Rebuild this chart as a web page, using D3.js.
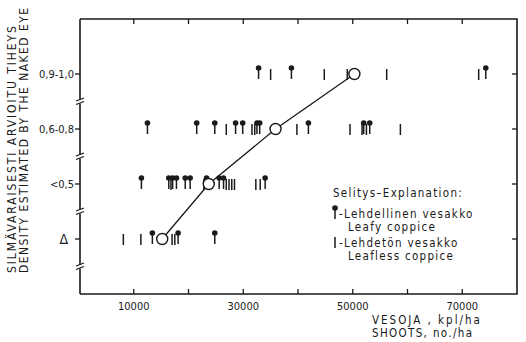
<!DOCTYPE html>
<html>
<head>
<meta charset="utf-8">
<script src="https://cdnjs.cloudflare.com/ajax/libs/d3/7.8.5/d3.min.js"></script>
<style>
	body { margin: 0; background: #fff; }
	svg text { font-family: "DejaVu Sans Condensed", "DejaVu Sans", sans-serif; fill: #1a1a1a; }
</style>
</head>
<body>
<div id="chart"></div>
<script>

	// density classes, bottom to top
	var rows = ["Δ", "<0,5", "0,6-0,8", "0,9-1,0"];

	// x ticks and labels
	var xTicks = [10000, 20000, 30000, 40000, 50000, 60000, 70000];
	var xLabels = [10000, 30000, 50000, 70000];

	// leafy coppice (pin markers), shoots per ha
	var leafyD = [13400, 18100, 24800];
	var leafy05 = [11400, 16400, 17100, 17800, 19400, 20300, 23300, 25600, 26400, 34000];
	var leafy068 = [12500, 21500, 24800, 28600, 29900, 32500, 33000, 41900, 52000, 53100];
	var leafy09 = [32800, 38800, 74300];

	// leafless coppice (bar markers)
	var leaflessD = [8100, 11300, 17000, 17500];
	var leafless05 = [16800, 22800, 26900, 27400, 27900, 28400, 32300, 33100];
	var leafless068 = [26900, 31600, 32100, 39800, 49500, 51700, 52500, 58700];
	var leafless09 = [35000, 44800, 49000, 56200, 73000];

	// class means
	var means = [15200, 23700, 35900, 50300];

	var width = 526;
	var height = 342;
	var marginLeft = 80, plotRight = 517, plotTop = 19, plotBottom = 294;
	var ink = "#1a1a1a";

	var svg = d3.select("#chart")
		.append("svg")
		.attr("width", width)
		.attr("height", height);

	var xScale = d3.scaleLinear()
		.domain([0, 80000])
		.range([marginLeft - 1, plotRight]);

	var yScale = d3.scalePoint()
		.domain(rows)
		.range([plotBottom, plotTop])
		.padding(1);

	// frame: top, right, bottom
	svg.append("path")
		.attr("d", "M" + marginLeft + "," + plotTop + "H" + plotRight + "V" + plotBottom + "H" + marginLeft)
		.attr("fill", "none")
		.attr("stroke", ink)
		.attr("stroke-width", 1.6);

	// left axis with breaks between classes
	var step = yScale.step();
	var breaks = rows.map(function(r){ return yScale(r) + step / 2; }).reverse();
	var gLeft = svg.append("g");
	var prev = plotTop;
	breaks.forEach(function(b){
		gLeft.append("line")
			.attr("x1", marginLeft).attr("x2", marginLeft)
			.attr("y1", prev).attr("y2", b - 2)
			.attr("stroke", ink).attr("stroke-width", 1.6);
		gLeft.append("line")
			.attr("x1", marginLeft - 4).attr("x2", marginLeft + 4)
			.attr("y1", b - 0.5).attr("y2", b - 3.5)
			.attr("stroke", ink).attr("stroke-width", 1.3);
		gLeft.append("line")
			.attr("x1", marginLeft - 4).attr("x2", marginLeft + 4)
			.attr("y1", b + 3).attr("y2", b)
			.attr("stroke", ink).attr("stroke-width", 1.3);
		prev = b + 2;
	});
	gLeft.append("line")
		.attr("x1", marginLeft).attr("x2", marginLeft)
		.attr("y1", prev).attr("y2", plotBottom)
		.attr("stroke", ink).attr("stroke-width", 1.6);

	// y ticks left (outside) and right (inside)
	rows.forEach(function(r){
		svg.append("line")
			.attr("x1", marginLeft - 5).attr("x2", marginLeft)
			.attr("y1", yScale(r)).attr("y2", yScale(r))
			.attr("stroke", ink).attr("stroke-width", 1.3);
		svg.append("line")
			.attr("x1", plotRight - 5).attr("x2", plotRight)
			.attr("y1", yScale(r)).attr("y2", yScale(r))
			.attr("stroke", ink).attr("stroke-width", 1.3);
		svg.append("text")
			.attr("x", r == "Δ" ? marginLeft - 12 : marginLeft - 6)
			.attr("y", yScale(r))
			.attr("dy", "0.35em")
			.attr("text-anchor", "end")
			.attr("font-size", r == "Δ" ? 14 : 11)
			.text(r);
	});

	// x ticks bottom and top (inside)
	xTicks.forEach(function(t){
		svg.append("line")
			.attr("x1", xScale(t)).attr("x2", xScale(t))
			.attr("y1", plotBottom).attr("y2", plotBottom - 5)
			.attr("stroke", ink).attr("stroke-width", 1.3);
		svg.append("line")
			.attr("x1", xScale(t)).attr("x2", xScale(t))
			.attr("y1", plotTop).attr("y2", plotTop + 5)
			.attr("stroke", ink).attr("stroke-width", 1.3);
	});
	svg.selectAll(".xlab")
		.data(xLabels)
		.enter()
		.append("text")
		.attr("x", function(d){ return xScale(d); })
		.attr("y", 310)
		.attr("text-anchor", "middle")
		.attr("font-size", 11)
		.text(function(d){ return d; });

	// axis titles
	svg.append("text").attr("x", 372).attr("y", 324).attr("font-size", 11.5)
		.attr("letter-spacing", 2).text("VESOJA , kpl/ha");
	svg.append("text").attr("x", 372).attr("y", 337).attr("font-size", 11.5)
		.attr("letter-spacing", 1.35).text("SHOOTS, no./ha");
	svg.append("text")
		.attr("transform", "translate(16,273) rotate(-90)")
		.attr("font-size", 12).attr("letter-spacing", 1.9)
		.text("SILMÄVARAISESTI  ARVIOITU  TIHEYS");
	svg.append("text")
		.attr("transform", "translate(28,273) rotate(-90)")
		.attr("font-size", 12).attr("letter-spacing", 1.45)
		.text("DENSITY ESTIMATED BY THE NAKED EYE");

	// markers
	function leafy(g, x, y){
		g.append("line")
			.attr("x1", x).attr("x2", x)
			.attr("y1", y - 6).attr("y2", y + 5)
			.attr("stroke", ink).attr("stroke-width", 1.5);
		g.append("circle")
			.attr("cx", x).attr("cy", y - 6).attr("r", 2.8)
			.attr("fill", ink);
	}
	function leafless(g, x, y){
		g.append("line")
			.attr("x1", x).attr("x2", x)
			.attr("y1", y - 5).attr("y2", y + 6)
			.attr("stroke", ink).attr("stroke-width", 1.5);
	}

	var leafyRows = [leafyD, leafy05, leafy068, leafy09];
	var leaflessRows = [leaflessD, leafless05, leafless068, leafless09];
	var gPts = svg.append("g");
	rows.forEach(function(r, i){
		leaflessRows[i].forEach(function(v){ leafless(gPts, xScale(v), yScale(r)); });
		leafyRows[i].forEach(function(v){ leafy(gPts, xScale(v), yScale(r)); });
	});

	// mean line and circles
	var line = d3.line()
		.x(function(d){ return xScale(d); })
		.y(function(d, i){ return yScale(rows[i]); });
	svg.append("path")
		.attr("d", line(means))
		.attr("fill", "none")
		.attr("stroke", ink)
		.attr("stroke-width", 1.3);
	svg.selectAll(".mean")
		.data(means)
		.enter()
		.append("circle")
		.attr("cx", function(d){ return xScale(d); })
		.attr("cy", function(d, i){ return yScale(rows[i]); })
		.attr("r", 5.5)
		.attr("fill", "#fff")
		.attr("stroke", ink)
		.attr("stroke-width", 1.4);

	// legend
	var lg = svg.append("g");
	lg.append("text").attr("x", 333).attr("y", 197).attr("font-size", 11.5)
		.attr("letter-spacing", 1.3).text("Selitys\u2013Explanation:");
	leafy(lg, 335, 214);
	lg.append("text").attr("x", 339).attr("y", 218).attr("font-size", 11.5)
		.attr("letter-spacing", 1.3).text("-Lehdellinen vesakko");
	lg.append("text").attr("x", 348).attr("y", 231).attr("font-size", 11.5)
		.attr("letter-spacing", 1.3).text("Leafy coppice");
	leafless(lg, 335, 242);
	lg.append("text").attr("x", 339).attr("y", 247).attr("font-size", 11.5)
		.attr("letter-spacing", 1.3).text("-Lehdetön vesakko");
	lg.append("text").attr("x", 348).attr("y", 260).attr("font-size", 11.5)
		.attr("letter-spacing", 1.3).text("Leafless coppice");

</script>
</body>
</html>
